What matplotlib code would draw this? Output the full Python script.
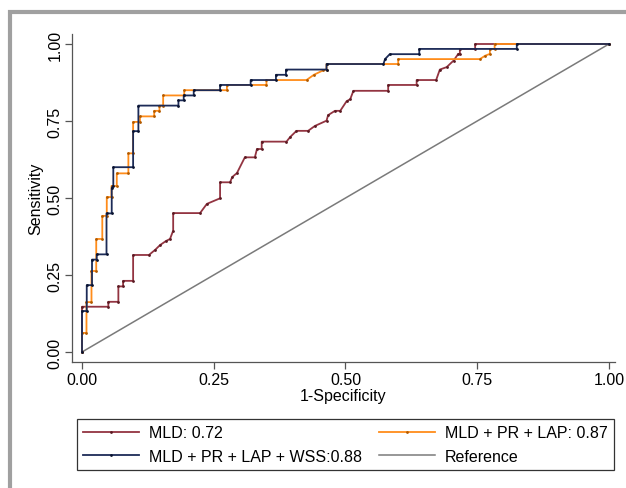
import numpy as np
import matplotlib.pyplot as plt
from matplotlib.patches import Rectangle

plt.rcParams['font.family'] = ['Liberation Sans', 'DejaVu Sans']

# ROC curves (1-specificity, sensitivity)
mld_x = [0, 0, 0.050, 0.050, 0.069, 0.069, 0.078, 0.078, 0.097, 0.097, 0.127, 0.139,
         0.148, 0.159, 0.167, 0.173, 0.173, 0.224, 0.237, 0.262, 0.262, 0.281, 0.285,
         0.294, 0.309, 0.328, 0.332, 0.341, 0.341, 0.388, 0.395, 0.407, 0.429, 0.442,
         0.464, 0.467, 0.480, 0.490, 0.502, 0.509, 0.515, 0.581, 0.581, 0.635, 0.635,
         0.672, 0.679, 0.692, 0.705, 0.714, 0.717, 0.717, 0.746, 0.746, 1.0]
mld_y = [0, 0.147, 0.147, 0.163, 0.163, 0.213, 0.213, 0.231, 0.231, 0.315, 0.315, 0.332,
         0.347, 0.360, 0.367, 0.394, 0.451, 0.451, 0.481, 0.499, 0.551, 0.551, 0.568,
         0.581, 0.632, 0.632, 0.659, 0.659, 0.683, 0.683, 0.698, 0.718, 0.718, 0.734,
         0.751, 0.769, 0.783, 0.783, 0.814, 0.821, 0.848, 0.848, 0.867, 0.867, 0.883,
         0.883, 0.917, 0.925, 0.946, 0.968, 0.968, 0.984, 0.984, 1.0, 1.0]

lap_x = [0, 0, 0.0085, 0.0085, 0.018, 0.018, 0.027, 0.027, 0.0385, 0.0385, 0.047, 0.047,
         0.056, 0.056, 0.066, 0.066, 0.088, 0.088, 0.097, 0.097, 0.110, 0.110, 0.137,
         0.137, 0.147, 0.147, 0.154, 0.154, 0.194, 0.194, 0.275, 0.275, 0.350, 0.350,
         0.426, 0.440, 0.457, 0.464, 0.464, 0.600, 0.600, 0.755, 0.765, 0.774, 0.774,
         0.783, 0.783, 1.0]
lap_y = [0, 0.062, 0.062, 0.162, 0.162, 0.263, 0.263, 0.367, 0.367, 0.442, 0.442, 0.503,
         0.503, 0.539, 0.539, 0.580, 0.580, 0.645, 0.645, 0.747, 0.747, 0.765, 0.765,
         0.783, 0.783, 0.800, 0.800, 0.833, 0.833, 0.850, 0.850, 0.867, 0.867, 0.883,
         0.883, 0.900, 0.914, 0.917, 0.935, 0.935, 0.951, 0.951, 0.962, 0.968, 0.984,
         0.984, 1.0, 1.0]

wss_x = [0, 0, 0.009, 0.009, 0.019, 0.019, 0.028, 0.028, 0.0465, 0.0465, 0.0564, 0.0564,
         0.0594, 0.0594, 0.097, 0.097, 0.107, 0.107, 0.183, 0.183, 0.193, 0.193, 0.212,
         0.212, 0.262, 0.262, 0.320, 0.320, 0.368, 0.368, 0.387, 0.387, 0.464, 0.464,
         0.572, 0.575, 0.584, 0.640, 0.640, 0.825, 0.825, 1.0]
wss_y = [0, 0.133, 0.133, 0.217, 0.217, 0.300, 0.300, 0.317, 0.317, 0.450, 0.450, 0.533,
         0.540, 0.600, 0.600, 0.717, 0.717, 0.800, 0.800, 0.817, 0.817, 0.833, 0.833,
         0.850, 0.850, 0.867, 0.867, 0.883, 0.883, 0.900, 0.900, 0.917, 0.917, 0.935,
         0.935, 0.951, 0.967, 0.967, 0.984, 0.984, 1.0, 1.0]

ticks = [0, 0.25, 0.5, 0.75, 1.0]
tick_labels = ['0.00', '0.25', '0.50', '0.75', '1.00']

fig = plt.figure(figsize=(6.26, 4.89), dpi=100)
fig.patches.append(Rectangle((10 / 626, -0.2), 1.2, 1.2 - 13 / 489,
                             transform=fig.transFigure, fill=False,
                             edgecolor='#a0a0a0', linewidth=3))

ax = fig.add_axes([72 / 626, 1 - 363 / 489, (615 - 72) / 626, (363 - 35) / 489])
ax.set_xlim(-10 / 527, 1 + 6 / 527)
ax.set_ylim(-10 / 308, 1 + 10 / 308)

l_ref, = ax.plot([0, 1], [0, 1], color='#7a7a7a', lw=1.1, label='Reference')
l_mld, = ax.plot(mld_x, mld_y, color='#933441', lw=1.3, marker='.', ms=2,
                 mec='#5a1a22', label='MLD: 0.72')
l_lap, = ax.plot(lap_x, lap_y, color='#ff8c1a', lw=1.3, marker='.', ms=2,
                 mec='#b05a00', label='MLD + PR + LAP: 0.87')
l_wss, = ax.plot(wss_x, wss_y, color='#1c2b57', lw=1.3, marker='.', ms=2,
                 mec='#0a1330', label='MLD + PR + LAP + WSS:0.88')

for s in ['top', 'right']:
    ax.spines[s].set_visible(False)
for s in ['left', 'bottom']:
    ax.spines[s].set_color('#555555')
    ax.spines[s].set_linewidth(0.9)

ax.set_xticks(ticks, tick_labels)
ax.set_yticks(ticks, tick_labels)
ax.tick_params(direction='out', length=5, width=0.9, color='#555555',
               labelsize=11.5, pad=2)
for lbl in ax.get_yticklabels():
    lbl.set_rotation(90)
    lbl.set_va('center')
ax.set_xlabel('1-Specificity', fontsize=11.5, labelpad=1)
ax.set_ylabel('Sensitivity', fontsize=11.5, labelpad=3)

fig.legend([l_mld, l_wss, l_lap, l_ref],
           ['MLD: 0.72', 'MLD + PR + LAP + WSS:0.88', 'MLD + PR + LAP: 0.87', 'Reference'],
           ncol=2, loc='center', mode='expand',
           bbox_to_anchor=(77 / 626, 1 - 473 / 489, (614 - 77) / 626, (473 - 418) / 489),
           fontsize=11.5, handlelength=3.5, handletextpad=0.6, fancybox=False,
           edgecolor='#333333', framealpha=1, borderpad=0.4, labelspacing=0.55,
           borderaxespad=0)
fig.legends[0].get_frame().set_linewidth(0.9)

fig.savefig('out.png', dpi=100)
